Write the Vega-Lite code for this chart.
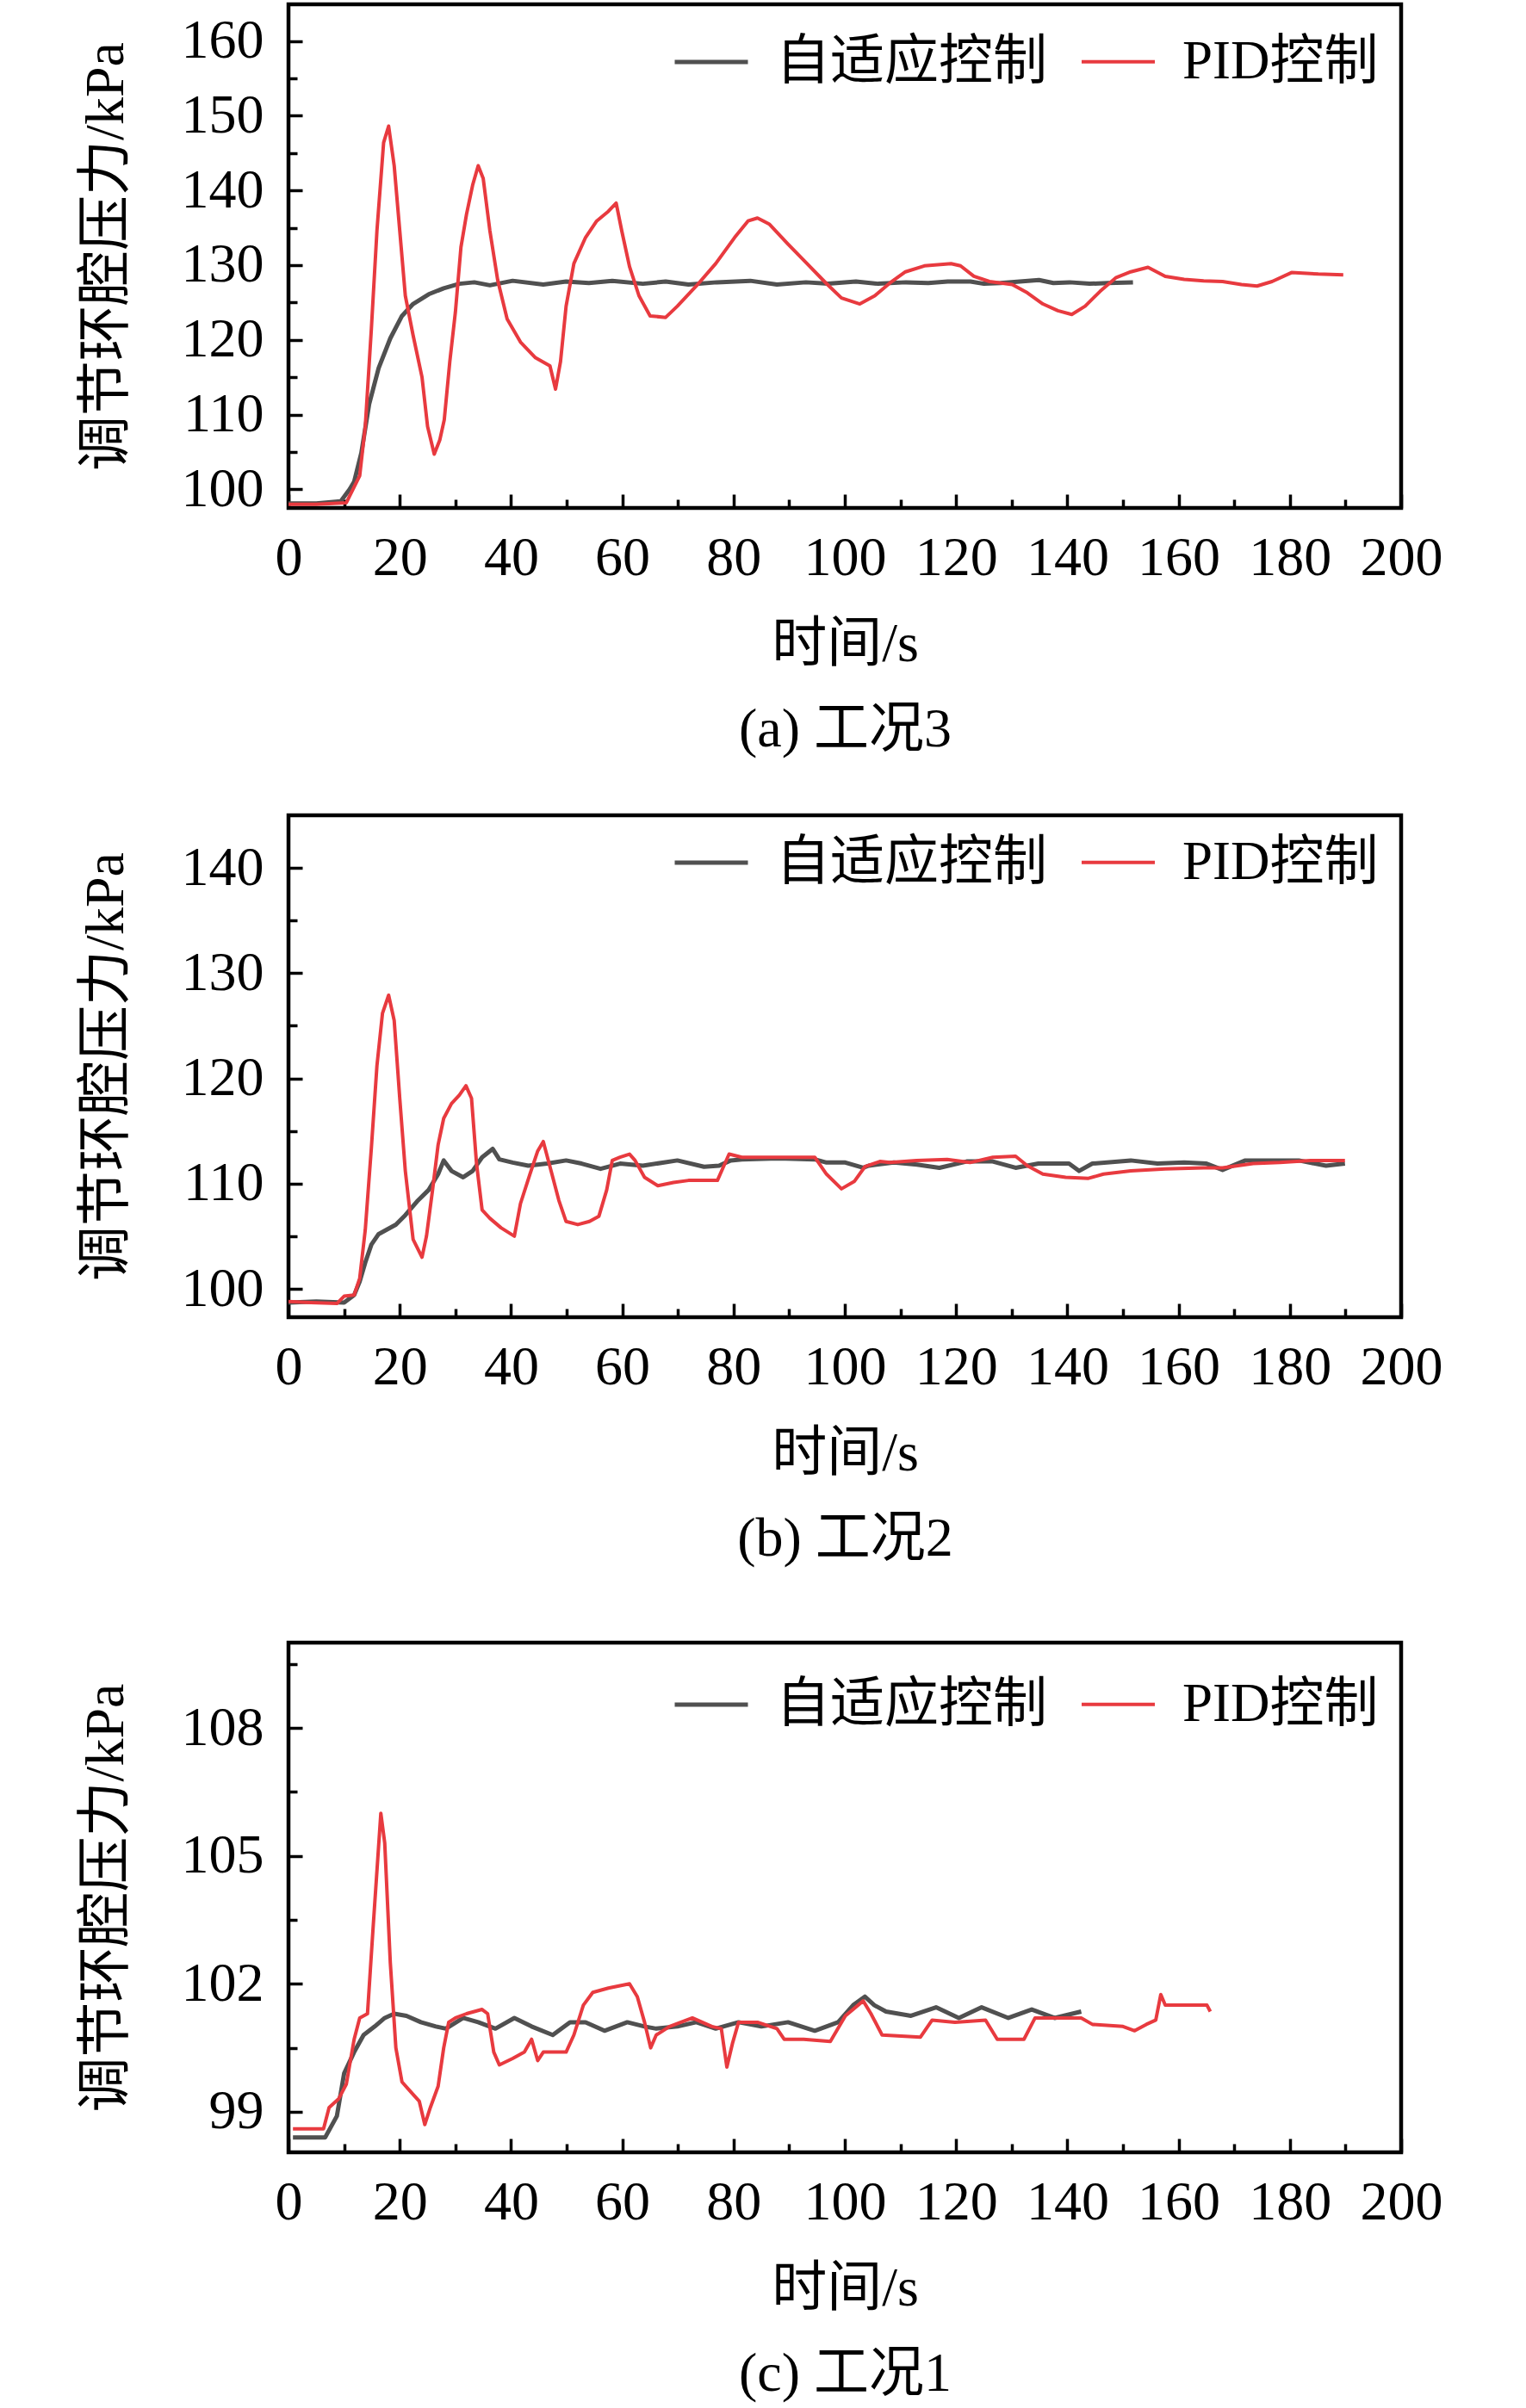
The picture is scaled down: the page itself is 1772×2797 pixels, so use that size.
{
  "$schema": "https://vega.github.io/schema/vega-lite/v6.json",
  "padding": {"left": 88, "top": 2, "right": 0, "bottom": 0},
  "background": "white",
  "spacing": 62,
  "resolve": {"scale": {"color": "independent", "strokeWidth": "independent"}, "legend": {"color": "independent"}},
  "config": {
    "view": {"stroke": "#000", "strokeWidth": 4.5},
    "font": "Liberation Serif, Noto Sans CJK SC",
    "axis": {
      "domain": false, "grid": false,
      "tickColor": "#000", "tickWidth": 3.5,
      "labelFont": "Liberation Serif, Noto Sans CJK SC", "labelFontSize": 64, "labelColor": "#000",
      "titleFont": "Liberation Serif, Noto Sans CJK SC", "titleFontSize": 64, "titleFontWeight": "normal", "titleColor": "#000",
      "labelFlush": false, "labelOverlap": false
    },
    "axisX": {"labelPadding": 42, "titlePadding": 30, "titleLineHeight": 99},
    "axisY": {"labelPadding": 45, "titlePadding": 55},
    "legend": {
      "direction": "horizontal", "symbolType": "stroke", "symbolSize": 7225, "symbolStrokeWidth": 5,
      "labelFont": "Liberation Serif, Noto Sans CJK SC", "labelFontSize": 63, "labelColor": "#000",
      "labelOffset": 30, "columnPadding": 32, "padding": 0, "labelLimit": 0
    }
  },
  "vconcat": [
    {
      "width": 1292, "height": 585,
      "data": {"values": [
        {"t": 0, "v": 98.1, "s": "自适应控制"}, {"t": 5, "v": 98.1, "s": "自适应控制"}, {"t": 9.4, "v": 98.4, "s": "自适应控制"}, {"t": 11, "v": 100, "s": "自适应控制"}, {"t": 11.8, "v": 101, "s": "自适应控制"}, {"t": 13.1, "v": 104.9, "s": "自适应控制"}, {"t": 14.5, "v": 111.4, "s": "自适应控制"}, {"t": 16.2, "v": 116.2, "s": "自适应控制"}, {"t": 18.3, "v": 120.2, "s": "自适应控制"}, {"t": 20.4, "v": 123.2, "s": "自适应控制"}, {"t": 22.4, "v": 124.8, "s": "自适应控制"}, {"t": 25.2, "v": 126.1, "s": "自适应控制"}, {"t": 27.9, "v": 126.9, "s": "自适应控制"}, {"t": 30.7, "v": 127.5, "s": "自适应控制"}, {"t": 33.4, "v": 127.7, "s": "自适应控制"}, {"t": 36.2, "v": 127.3, "s": "自适应控制"}, {"t": 40.3, "v": 127.9, "s": "自适应控制"}, {"t": 45.8, "v": 127.4, "s": "自适应控制"}, {"t": 49.9, "v": 127.8, "s": "自适应控制"}, {"t": 54, "v": 127.6, "s": "自适应控制"}, {"t": 58.2, "v": 127.9, "s": "自适应控制"}, {"t": 63.7, "v": 127.5, "s": "自适应控制"}, {"t": 67.8, "v": 127.8, "s": "自适应控制"}, {"t": 71.9, "v": 127.4, "s": "自适应控制"}, {"t": 77, "v": 127.7, "s": "自适应控制"}, {"t": 83, "v": 127.9, "s": "自适应控制"}, {"t": 87.8, "v": 127.4, "s": "自适应控制"}, {"t": 93, "v": 127.7, "s": "自适应控制"}, {"t": 97, "v": 127.5, "s": "自适应控制"}, {"t": 102, "v": 127.8, "s": "自适应控制"}, {"t": 106, "v": 127.5, "s": "自适应控制"}, {"t": 111, "v": 127.7, "s": "自适应控制"}, {"t": 115, "v": 127.6, "s": "自适应控制"}, {"t": 118.5, "v": 127.8, "s": "自适应控制"}, {"t": 122.6, "v": 127.8, "s": "自适应控制"}, {"t": 125, "v": 127.5, "s": "自适应控制"}, {"t": 128, "v": 127.6, "s": "自适应控制"}, {"t": 134.9, "v": 128, "s": "自适应控制"}, {"t": 137.5, "v": 127.6, "s": "自适应控制"}, {"t": 140.4, "v": 127.7, "s": "自适应控制"}, {"t": 144, "v": 127.5, "s": "自适应控制"}, {"t": 147.3, "v": 127.6, "s": "自适应控制"}, {"t": 151.8, "v": 127.7, "s": "自适应控制"},
        {"t": 0, "v": 98, "s": "PID控制"}, {"t": 5, "v": 98, "s": "PID控制"}, {"t": 10.4, "v": 98.2, "s": "PID控制"}, {"t": 12.8, "v": 101.8, "s": "PID控制"}, {"t": 13.8, "v": 108.4, "s": "PID控制"}, {"t": 14.9, "v": 121.5, "s": "PID控制"}, {"t": 15.9, "v": 134.6, "s": "PID控制"}, {"t": 17.1, "v": 146.4, "s": "PID控制"}, {"t": 18, "v": 148.6, "s": "PID控制"}, {"t": 19, "v": 143.3, "s": "PID控制"}, {"t": 20, "v": 134.6, "s": "PID控制"}, {"t": 21, "v": 125.9, "s": "PID控制"}, {"t": 22.4, "v": 120.6, "s": "PID控制"}, {"t": 24, "v": 115, "s": "PID控制"}, {"t": 25, "v": 108.4, "s": "PID控制"}, {"t": 26.2, "v": 104.7, "s": "PID控制"}, {"t": 27.2, "v": 106.6, "s": "PID控制"}, {"t": 28, "v": 109.3, "s": "PID控制"}, {"t": 29, "v": 117.1, "s": "PID控制"}, {"t": 30, "v": 123.7, "s": "PID控制"}, {"t": 31, "v": 132.4, "s": "PID控制"}, {"t": 32, "v": 136.8, "s": "PID控制"}, {"t": 33.1, "v": 140.7, "s": "PID控制"}, {"t": 34.1, "v": 143.3, "s": "PID控制"}, {"t": 35, "v": 141.6, "s": "PID控制"}, {"t": 36.2, "v": 134.6, "s": "PID控制"}, {"t": 37.6, "v": 128, "s": "PID控制"}, {"t": 39.3, "v": 122.8, "s": "PID控制"}, {"t": 41.7, "v": 119.7, "s": "PID控制"}, {"t": 44.4, "v": 117.6, "s": "PID控制"}, {"t": 47, "v": 116.5, "s": "PID控制"}, {"t": 48, "v": 113.4, "s": "PID控制"}, {"t": 48.9, "v": 117.1, "s": "PID控制"}, {"t": 49.9, "v": 124.5, "s": "PID控制"}, {"t": 51.3, "v": 130.2, "s": "PID控制"}, {"t": 53.4, "v": 133.7, "s": "PID控制"}, {"t": 55.4, "v": 135.9, "s": "PID控制"}, {"t": 57.5, "v": 137.2, "s": "PID控制"}, {"t": 58.9, "v": 138.3, "s": "PID控制"}, {"t": 59.9, "v": 134.6, "s": "PID控制"}, {"t": 61.3, "v": 129.8, "s": "PID控制"}, {"t": 63, "v": 125.9, "s": "PID控制"}, {"t": 65, "v": 123.2, "s": "PID控制"}, {"t": 67.8, "v": 123, "s": "PID控制"}, {"t": 69.9, "v": 124.5, "s": "PID控制"}, {"t": 73.3, "v": 127.2, "s": "PID控制"}, {"t": 76.8, "v": 130.2, "s": "PID控制"}, {"t": 80.2, "v": 133.7, "s": "PID控制"}, {"t": 82.6, "v": 135.9, "s": "PID控制"}, {"t": 84.3, "v": 136.3, "s": "PID控制"}, {"t": 86.4, "v": 135.5, "s": "PID控制"}, {"t": 89.8, "v": 132.8, "s": "PID控制"}, {"t": 93.2, "v": 130.2, "s": "PID控制"}, {"t": 96.6, "v": 127.6, "s": "PID控制"}, {"t": 99.4, "v": 125.6, "s": "PID控制"}, {"t": 102.7, "v": 124.8, "s": "PID控制"}, {"t": 105.4, "v": 125.9, "s": "PID控制"}, {"t": 108.1, "v": 127.6, "s": "PID控制"}, {"t": 110.9, "v": 129.1, "s": "PID控制"}, {"t": 114.3, "v": 129.9, "s": "PID控制"}, {"t": 119.1, "v": 130.2, "s": "PID控制"}, {"t": 120.8, "v": 129.9, "s": "PID控制"}, {"t": 123.2, "v": 128.5, "s": "PID控制"}, {"t": 126, "v": 127.8, "s": "PID控制"}, {"t": 130.1, "v": 127.4, "s": "PID控制"}, {"t": 132.8, "v": 126.3, "s": "PID控制"}, {"t": 135.6, "v": 124.8, "s": "PID控制"}, {"t": 138.3, "v": 123.9, "s": "PID控制"}, {"t": 140.8, "v": 123.4, "s": "PID控制"}, {"t": 143.2, "v": 124.5, "s": "PID控制"}, {"t": 145.9, "v": 126.5, "s": "PID控制"}, {"t": 148.7, "v": 128.3, "s": "PID控制"}, {"t": 151.4, "v": 129.1, "s": "PID控制"}, {"t": 154.5, "v": 129.7, "s": "PID控制"}, {"t": 157.6, "v": 128.5, "s": "PID控制"}, {"t": 161, "v": 128.1, "s": "PID控制"}, {"t": 164.5, "v": 127.9, "s": "PID控制"}, {"t": 167.9, "v": 127.8, "s": "PID控制"}, {"t": 171.3, "v": 127.4, "s": "PID控制"}, {"t": 174.1, "v": 127.2, "s": "PID控制"}, {"t": 176.8, "v": 127.8, "s": "PID控制"}, {"t": 180.3, "v": 129, "s": "PID控制"}, {"t": 185.1, "v": 128.8, "s": "PID控制"}, {"t": 189.6, "v": 128.7, "s": "PID控制"}
      ]},
      "mark": {"type": "line", "strokeJoin": "round", "clip": true},
      "encoding": {
        "x": {"field": "t", "type": "quantitative", "scale": {"domain": [0, 200], "nice": false},
          "axis": {"values": [0,10,20,30,40,50,60,70,80,90,100,110,120,130,140,150,160,170,180,190,200], "labelExpr": "datum.value % 20 === 0 ? datum.label : ''", "tickSize": {"condition": {"test": "datum.value % 20 === 0", "value": -16}, "value": -10}, "title": ["时间/s", "(a) 工况3"]}},
        "y": {"field": "v", "type": "quantitative", "scale": {"domain": [97.5, 164.9], "nice": false, "zero": false},
          "axis": {"values": [100,105,110,115,120,125,130,135,140,145,150,155,160], "labelExpr": "datum.value % 10 === 0 ? datum.label : ''", "tickSize": {"condition": {"test": "datum.value % 10 === 0", "value": -16}, "value": -10}, "title": "调节环腔压力/kPa"}},
        "color": {"field": "s", "type": "nominal", "scale": {"domain": ["自适应控制", "PID控制"], "range": ["#505050", "#e83a3f"]},
          "legend": {"title": null, "orient": "none", "legendX": 446, "legendY": 22}},
        "strokeWidth": {"field": "s", "type": "nominal", "scale": {"domain": ["自适应控制", "PID控制"], "range": [5, 4]}, "legend": null}
      }
    },
    {
      "width": 1292, "height": 583,
      "data": {"values": [
        {"t": 0, "v": 98.7, "s": "自适应控制"}, {"t": 5, "v": 98.8, "s": "自适应控制"}, {"t": 10, "v": 98.7, "s": "自适应控制"}, {"t": 11.8, "v": 99.4, "s": "自适应控制"}, {"t": 12.8, "v": 100.7, "s": "自适应控制"}, {"t": 13.8, "v": 102.5, "s": "自适应控制"}, {"t": 14.9, "v": 104.2, "s": "自适应控制"}, {"t": 16.2, "v": 105.2, "s": "自适应控制"}, {"t": 17.6, "v": 105.6, "s": "自适应控制"}, {"t": 19.3, "v": 106.1, "s": "自适应控制"}, {"t": 21, "v": 107, "s": "自适应控制"}, {"t": 23.1, "v": 108.3, "s": "自适应控制"}, {"t": 25.2, "v": 109.4, "s": "自适应控制"}, {"t": 26.9, "v": 110.9, "s": "自适应控制"}, {"t": 27.9, "v": 112.2, "s": "自适应控制"}, {"t": 29.3, "v": 111.2, "s": "自适应控制"}, {"t": 31.4, "v": 110.6, "s": "自适应控制"}, {"t": 33.1, "v": 111.2, "s": "自适应控制"}, {"t": 34.8, "v": 112.5, "s": "自适应控制"}, {"t": 36.7, "v": 113.3, "s": "自适应控制"}, {"t": 37.9, "v": 112.3, "s": "自适应控制"}, {"t": 40.3, "v": 112, "s": "自适应控制"}, {"t": 43.1, "v": 111.7, "s": "自适应控制"}, {"t": 46.5, "v": 111.9, "s": "自适应控制"}, {"t": 49.9, "v": 112.2, "s": "自适应控制"}, {"t": 52.7, "v": 111.9, "s": "自适应控制"}, {"t": 56.1, "v": 111.4, "s": "自适应控制"}, {"t": 59.6, "v": 111.9, "s": "自适应控制"}, {"t": 63.7, "v": 111.7, "s": "自适应控制"}, {"t": 69.9, "v": 112.2, "s": "自适应控制"}, {"t": 74.7, "v": 111.6, "s": "自适应控制"}, {"t": 77.4, "v": 111.7, "s": "自适应控制"}, {"t": 79.5, "v": 112.2, "s": "自适应控制"}, {"t": 81.5, "v": 112.3, "s": "自适应控制"}, {"t": 88, "v": 112.4, "s": "自适应控制"}, {"t": 94.6, "v": 112.3, "s": "自适应控制"}, {"t": 96.7, "v": 112, "s": "自适应控制"}, {"t": 100.1, "v": 112, "s": "自适应控制"}, {"t": 103.3, "v": 111.5, "s": "自适应控制"}, {"t": 104.3, "v": 111.7, "s": "自适应控制"}, {"t": 108.8, "v": 112, "s": "自适应控制"}, {"t": 113, "v": 111.8, "s": "自适应控制"}, {"t": 117, "v": 111.5, "s": "自适应控制"}, {"t": 121.9, "v": 112.1, "s": "自适应控制"}, {"t": 126.6, "v": 112.1, "s": "自适应控制"}, {"t": 130.7, "v": 111.5, "s": "自适应控制"}, {"t": 134.8, "v": 111.9, "s": "自适应控制"}, {"t": 140.3, "v": 111.9, "s": "自适应控制"}, {"t": 142.1, "v": 111.2, "s": "自适应控制"}, {"t": 144.5, "v": 111.9, "s": "自适应控制"}, {"t": 151.4, "v": 112.2, "s": "自适应控制"}, {"t": 156.2, "v": 111.9, "s": "自适应控制"}, {"t": 161, "v": 112, "s": "自适应控制"}, {"t": 165, "v": 111.9, "s": "自适应控制"}, {"t": 167.9, "v": 111.3, "s": "自适应控制"}, {"t": 172, "v": 112.2, "s": "自适应控制"}, {"t": 178.2, "v": 112.2, "s": "自适应控制"}, {"t": 181.6, "v": 112.2, "s": "自适应控制"}, {"t": 186.5, "v": 111.7, "s": "自适应控制"}, {"t": 189.9, "v": 111.9, "s": "自适应控制"},
        {"t": 0, "v": 98.8, "s": "PID控制"}, {"t": 4, "v": 98.7, "s": "PID控制"}, {"t": 8.7, "v": 98.6, "s": "PID控制"}, {"t": 10, "v": 99.3, "s": "PID控制"}, {"t": 11.8, "v": 99.4, "s": "PID控制"}, {"t": 12.8, "v": 101, "s": "PID控制"}, {"t": 13.8, "v": 105.6, "s": "PID控制"}, {"t": 14.9, "v": 113.4, "s": "PID控制"}, {"t": 15.9, "v": 121.2, "s": "PID控制"}, {"t": 16.9, "v": 126.2, "s": "PID控制"}, {"t": 18, "v": 127.9, "s": "PID控制"}, {"t": 19, "v": 125.5, "s": "PID控制"}, {"t": 20, "v": 118.1, "s": "PID控制"}, {"t": 21, "v": 111.2, "s": "PID控制"}, {"t": 22.4, "v": 104.7, "s": "PID控制"}, {"t": 24, "v": 103, "s": "PID控制"}, {"t": 24.8, "v": 105, "s": "PID控制"}, {"t": 25.9, "v": 109.4, "s": "PID控制"}, {"t": 26.9, "v": 113.7, "s": "PID控制"}, {"t": 27.9, "v": 116.2, "s": "PID控制"}, {"t": 29.3, "v": 117.6, "s": "PID控制"}, {"t": 30.7, "v": 118.4, "s": "PID控制"}, {"t": 31.9, "v": 119.3, "s": "PID控制"}, {"t": 32.9, "v": 118.1, "s": "PID控制"}, {"t": 33.8, "v": 111.9, "s": "PID控制"}, {"t": 34.8, "v": 107.5, "s": "PID控制"}, {"t": 36.2, "v": 106.7, "s": "PID控制"}, {"t": 38.2, "v": 105.8, "s": "PID控制"}, {"t": 40.6, "v": 105, "s": "PID控制"}, {"t": 41.7, "v": 108.1, "s": "PID控制"}, {"t": 43.4, "v": 110.9, "s": "PID控制"}, {"t": 44.8, "v": 113.1, "s": "PID控制"}, {"t": 45.8, "v": 114, "s": "PID控制"}, {"t": 47.2, "v": 111.2, "s": "PID控制"}, {"t": 48.6, "v": 108.4, "s": "PID控制"}, {"t": 49.9, "v": 106.4, "s": "PID控制"}, {"t": 52, "v": 106.1, "s": "PID控制"}, {"t": 54.1, "v": 106.4, "s": "PID控制"}, {"t": 55.8, "v": 106.9, "s": "PID控制"}, {"t": 57.2, "v": 109.4, "s": "PID控制"}, {"t": 58.2, "v": 112.2, "s": "PID控制"}, {"t": 59.6, "v": 112.5, "s": "PID控制"}, {"t": 61.3, "v": 112.8, "s": "PID控制"}, {"t": 62.3, "v": 112.2, "s": "PID控制"}, {"t": 64, "v": 110.6, "s": "PID控制"}, {"t": 66.4, "v": 109.8, "s": "PID控制"}, {"t": 69.2, "v": 110.1, "s": "PID控制"}, {"t": 71.9, "v": 110.3, "s": "PID控制"}, {"t": 74.7, "v": 110.3, "s": "PID控制"}, {"t": 77.1, "v": 110.3, "s": "PID控制"}, {"t": 78.1, "v": 111.5, "s": "PID控制"}, {"t": 79.2, "v": 112.8, "s": "PID控制"}, {"t": 81.5, "v": 112.5, "s": "PID控制"}, {"t": 88, "v": 112.5, "s": "PID控制"}, {"t": 94.6, "v": 112.5, "s": "PID控制"}, {"t": 96.7, "v": 110.9, "s": "PID控制"}, {"t": 99.4, "v": 109.5, "s": "PID控制"}, {"t": 101.7, "v": 110.2, "s": "PID控制"}, {"t": 103.6, "v": 111.6, "s": "PID控制"}, {"t": 106.3, "v": 112.1, "s": "PID控制"}, {"t": 108.1, "v": 112, "s": "PID控制"}, {"t": 112.9, "v": 112.2, "s": "PID控制"}, {"t": 118.4, "v": 112.3, "s": "PID控制"}, {"t": 122.5, "v": 112, "s": "PID控制"}, {"t": 126.6, "v": 112.5, "s": "PID控制"}, {"t": 130.7, "v": 112.6, "s": "PID控制"}, {"t": 132.8, "v": 111.7, "s": "PID控制"}, {"t": 135.6, "v": 110.9, "s": "PID控制"}, {"t": 139.7, "v": 110.6, "s": "PID控制"}, {"t": 143.8, "v": 110.5, "s": "PID控制"}, {"t": 146.5, "v": 110.9, "s": "PID控制"}, {"t": 151.4, "v": 111.2, "s": "PID控制"}, {"t": 157.6, "v": 111.4, "s": "PID控制"}, {"t": 164.5, "v": 111.5, "s": "PID控制"}, {"t": 167.9, "v": 111.5, "s": "PID控制"}, {"t": 173.4, "v": 111.9, "s": "PID控制"}, {"t": 178.2, "v": 112, "s": "PID控制"}, {"t": 183.7, "v": 112.2, "s": "PID控制"}, {"t": 189.9, "v": 112.2, "s": "PID控制"}
      ]},
      "mark": {"type": "line", "strokeJoin": "round", "clip": true},
      "encoding": {
        "x": {"field": "t", "type": "quantitative", "scale": {"domain": [0, 200], "nice": false},
          "axis": {"values": [0,10,20,30,40,50,60,70,80,90,100,110,120,130,140,150,160,170,180,190,200], "labelExpr": "datum.value % 20 === 0 ? datum.label : ''", "tickSize": {"condition": {"test": "datum.value % 20 === 0", "value": -16}, "value": -10}, "title": ["时间/s", "(b) 工况2"]}},
        "y": {"field": "v", "type": "quantitative", "scale": {"domain": [97.3, 145], "nice": false, "zero": false},
          "axis": {"values": [100,105,110,115,120,125,130,135,140], "labelExpr": "datum.value % 10 === 0 ? datum.label : ''", "tickSize": {"condition": {"test": "datum.value % 10 === 0", "value": -16}, "value": -10}, "title": "调节环腔压力/kPa"}},
        "color": {"field": "s", "type": "nominal", "scale": {"domain": ["自适应控制", "PID控制"], "range": ["#505050", "#e83a3f"]},
          "legend": {"title": null, "orient": "none", "legendX": 446, "legendY": 10}},
        "strokeWidth": {"field": "s", "type": "nominal", "scale": {"domain": ["自适应控制", "PID控制"], "range": [5, 4]}, "legend": null}
      }
    },
    {
      "width": 1292, "height": 592,
      "title": {"text": " ", "fontSize": 10, "offset": 4},
      "data": {"values": [
        {"t": 0.8, "v": 98.4, "s": "自适应控制"}, {"t": 6.6, "v": 98.4, "s": "自适应控制"}, {"t": 8.7, "v": 98.9, "s": "自适应控制"}, {"t": 10, "v": 99.9, "s": "自适应控制"}, {"t": 11.8, "v": 100.4, "s": "自适应控制"}, {"t": 13.5, "v": 100.8, "s": "自适应控制"}, {"t": 15.5, "v": 101, "s": "自适应控制"}, {"t": 17.3, "v": 101.2, "s": "自适应控制"}, {"t": 19, "v": 101.3, "s": "自适应控制"}, {"t": 21.2, "v": 101.25, "s": "自适应控制"}, {"t": 23.8, "v": 101.1, "s": "自适应控制"}, {"t": 26.5, "v": 101, "s": "自适应控制"}, {"t": 28.3, "v": 100.95, "s": "自适应控制"}, {"t": 31.4, "v": 101.2, "s": "自适应控制"}, {"t": 34.1, "v": 101.1, "s": "自适应控制"}, {"t": 37.2, "v": 100.95, "s": "自适应控制"}, {"t": 40.6, "v": 101.2, "s": "自适应控制"}, {"t": 43.7, "v": 101, "s": "自适应控制"}, {"t": 47.5, "v": 100.8, "s": "自适应控制"}, {"t": 50.6, "v": 101.1, "s": "自适应控制"}, {"t": 53.4, "v": 101.1, "s": "自适应控制"}, {"t": 56.8, "v": 100.9, "s": "自适应控制"}, {"t": 60.9, "v": 101.1, "s": "自适应控制"}, {"t": 64, "v": 101, "s": "自适应控制"}, {"t": 66.1, "v": 100.95, "s": "自适应控制"}, {"t": 69.9, "v": 101, "s": "自适应控制"}, {"t": 73.3, "v": 101.1, "s": "自适应控制"}, {"t": 76.8, "v": 100.95, "s": "自适应控制"}, {"t": 80.9, "v": 101.1, "s": "自适应控制"}, {"t": 85, "v": 101, "s": "自适应控制"}, {"t": 89.8, "v": 101.1, "s": "自适应控制"}, {"t": 94.6, "v": 100.9, "s": "自适应控制"}, {"t": 98.8, "v": 101.1, "s": "自适应控制"}, {"t": 101.5, "v": 101.5, "s": "自适应控制"}, {"t": 103.6, "v": 101.7, "s": "自适应控制"}, {"t": 105.3, "v": 101.5, "s": "自适应控制"}, {"t": 107.4, "v": 101.35, "s": "自适应控制"}, {"t": 111.9, "v": 101.25, "s": "自适应控制"}, {"t": 116.4, "v": 101.45, "s": "自适应控制"}, {"t": 120.5, "v": 101.2, "s": "自适应控制"}, {"t": 124.6, "v": 101.45, "s": "自适应控制"}, {"t": 129.4, "v": 101.2, "s": "自适应控制"}, {"t": 133.6, "v": 101.4, "s": "自适应控制"}, {"t": 137.7, "v": 101.2, "s": "自适应控制"}, {"t": 142.5, "v": 101.35, "s": "自适应控制"},
        {"t": 0.8, "v": 98.6, "s": "PID控制"}, {"t": 6.3, "v": 98.6, "s": "PID控制"}, {"t": 7.3, "v": 99.1, "s": "PID控制"}, {"t": 9, "v": 99.3, "s": "PID控制"}, {"t": 10.4, "v": 99.65, "s": "PID控制"}, {"t": 11.8, "v": 100.7, "s": "PID控制"}, {"t": 12.8, "v": 101.2, "s": "PID控制"}, {"t": 14.2, "v": 101.3, "s": "PID控制"}, {"t": 15.2, "v": 103.3, "s": "PID控制"}, {"t": 16.6, "v": 106, "s": "PID控制"}, {"t": 17.3, "v": 105.3, "s": "PID控制"}, {"t": 18.3, "v": 102.5, "s": "PID控制"}, {"t": 19.3, "v": 100.5, "s": "PID控制"}, {"t": 20.4, "v": 99.7, "s": "PID控制"}, {"t": 22.1, "v": 99.45, "s": "PID控制"}, {"t": 23.5, "v": 99.25, "s": "PID控制"}, {"t": 24.5, "v": 98.7, "s": "PID控制"}, {"t": 25.5, "v": 99.1, "s": "PID控制"}, {"t": 26.9, "v": 99.6, "s": "PID控制"}, {"t": 27.9, "v": 100.5, "s": "PID控制"}, {"t": 28.8, "v": 101.1, "s": "PID控制"}, {"t": 30, "v": 101.2, "s": "PID控制"}, {"t": 32, "v": 101.3, "s": "PID控制"}, {"t": 34.8, "v": 101.4, "s": "PID控制"}, {"t": 35.8, "v": 101.3, "s": "PID控制"}, {"t": 36.9, "v": 100.4, "s": "PID控制"}, {"t": 37.9, "v": 100.1, "s": "PID控制"}, {"t": 40.3, "v": 100.25, "s": "PID控制"}, {"t": 42.4, "v": 100.4, "s": "PID控制"}, {"t": 43.7, "v": 100.7, "s": "PID控制"}, {"t": 44.8, "v": 100.2, "s": "PID控制"}, {"t": 45.8, "v": 100.4, "s": "PID控制"}, {"t": 49.9, "v": 100.4, "s": "PID控制"}, {"t": 51.3, "v": 100.8, "s": "PID控制"}, {"t": 53, "v": 101.5, "s": "PID控制"}, {"t": 54.7, "v": 101.8, "s": "PID控制"}, {"t": 57.5, "v": 101.9, "s": "PID控制"}, {"t": 61.3, "v": 102, "s": "PID控制"}, {"t": 62.7, "v": 101.7, "s": "PID控制"}, {"t": 64, "v": 101.1, "s": "PID控制"}, {"t": 65.1, "v": 100.5, "s": "PID控制"}, {"t": 66.1, "v": 100.8, "s": "PID控制"}, {"t": 68.5, "v": 101, "s": "PID控制"}, {"t": 72.6, "v": 101.2, "s": "PID控制"}, {"t": 76.1, "v": 101, "s": "PID控制"}, {"t": 77.8, "v": 100.95, "s": "PID控制"}, {"t": 78.8, "v": 100.05, "s": "PID控制"}, {"t": 79.8, "v": 100.6, "s": "PID控制"}, {"t": 80.9, "v": 101.1, "s": "PID控制"}, {"t": 84.3, "v": 101.1, "s": "PID控制"}, {"t": 87.8, "v": 100.95, "s": "PID控制"}, {"t": 89.1, "v": 100.7, "s": "PID控制"}, {"t": 92.6, "v": 100.7, "s": "PID控制"}, {"t": 97.4, "v": 100.65, "s": "PID控制"}, {"t": 100.1, "v": 101.25, "s": "PID控制"}, {"t": 103.3, "v": 101.6, "s": "PID控制"}, {"t": 104.7, "v": 101.3, "s": "PID控制"}, {"t": 106.7, "v": 100.8, "s": "PID控制"}, {"t": 113.6, "v": 100.75, "s": "PID控制"}, {"t": 115.7, "v": 101.15, "s": "PID控制"}, {"t": 119.8, "v": 101.1, "s": "PID控制"}, {"t": 125.3, "v": 101.15, "s": "PID控制"}, {"t": 127.4, "v": 100.7, "s": "PID控制"}, {"t": 132.2, "v": 100.7, "s": "PID控制"}, {"t": 134.2, "v": 101.2, "s": "PID控制"}, {"t": 137.7, "v": 101.2, "s": "PID控制"}, {"t": 142.5, "v": 101.2, "s": "PID控制"}, {"t": 144.5, "v": 101.05, "s": "PID控制"}, {"t": 150, "v": 101, "s": "PID控制"}, {"t": 152.1, "v": 100.9, "s": "PID控制"}, {"t": 154.2, "v": 101.05, "s": "PID控制"}, {"t": 155.9, "v": 101.15, "s": "PID控制"}, {"t": 156.8, "v": 101.75, "s": "PID控制"}, {"t": 157.6, "v": 101.5, "s": "PID控制"}, {"t": 159.7, "v": 101.5, "s": "PID控制"}, {"t": 163.8, "v": 101.5, "s": "PID控制"}, {"t": 165.1, "v": 101.5, "s": "PID控制"}, {"t": 165.7, "v": 101.35, "s": "PID控制"}
      ]},
      "mark": {"type": "line", "strokeJoin": "round", "clip": true},
      "encoding": {
        "x": {"field": "t", "type": "quantitative", "scale": {"domain": [0, 200], "nice": false},
          "axis": {"values": [0,10,20,30,40,50,60,70,80,90,100,110,120,130,140,150,160,170,180,190,200], "labelExpr": "datum.value % 20 === 0 ? datum.label : ''", "tickSize": {"condition": {"test": "datum.value % 20 === 0", "value": -16}, "value": -10}, "title": ["时间/s", "(c) 工况1"]}},
        "y": {"field": "v", "type": "quantitative", "scale": {"domain": [98.05, 110], "nice": false, "zero": false},
          "axis": {"values": [99,100.5,102,103.5,105,106.5,108,109.5], "labelExpr": "(datum.value - 99) % 3 === 0 ? datum.label : ''", "tickSize": {"condition": {"test": "(datum.value - 99) % 3 === 0", "value": -16}, "value": -10}, "title": "调节环腔压力/kPa"}},
        "color": {"field": "s", "type": "nominal", "scale": {"domain": ["自适应控制", "PID控制"], "range": ["#505050", "#e83a3f"]},
          "legend": {"title": null, "orient": "none", "legendX": 446, "legendY": 27}},
        "strokeWidth": {"field": "s", "type": "nominal", "scale": {"domain": ["自适应控制", "PID控制"], "range": [5, 4]}, "legend": null}
      }
    }
  ]
}
